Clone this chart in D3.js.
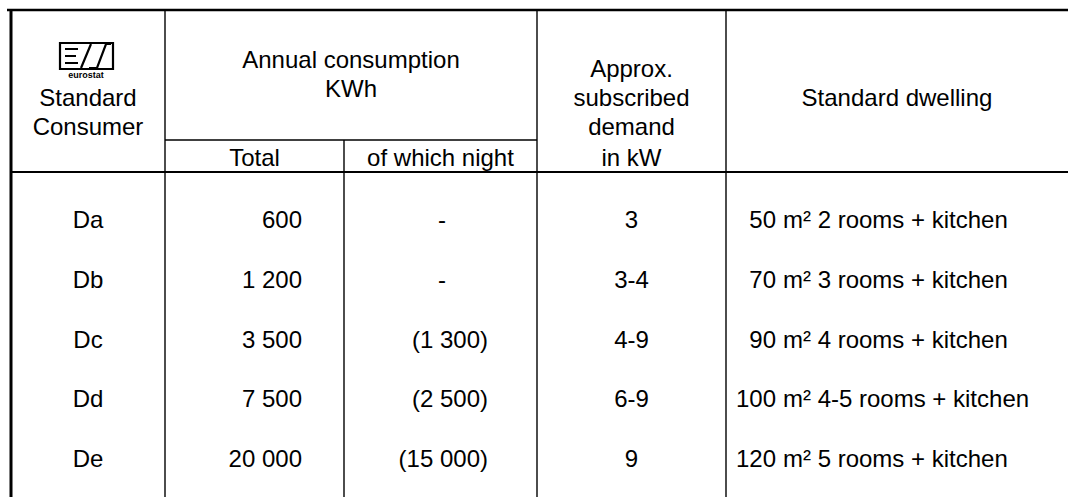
<!DOCTYPE html>
<html>
<head>
<meta charset="utf-8">
<script src="https://cdn.jsdelivr.net/npm/d3@7"></script>
<style>
  body { margin: 0; background: #fff; }
  text { font-family: "Liberation Sans", Arial, sans-serif; fill: #000; }
</style>
</head>
<body>
<script>
var consumers = ["Da", "Db", "Dc", "Dd", "De"];
var totals = [600, 1200, 3500, 7500, 20000];
var night = [null, null, 1300, 2500, 15000];
var demand = ["3", "3-4", "4-9", "6-9", "9"];
var areas = [50, 70, 90, 100, 120];
var rooms = ["2 rooms", "3 rooms", "4 rooms", "4-5 rooms", "5 rooms"];

var width = 1068;
var height = 497;
var fontSize = 24;

// column edges
var colX = [11, 165, 344, 537, 726, 1068];
var topY = 10, subY = 140, headY = 172;

var svg = d3.select("body").append("svg")
    .attr("width", width).attr("height", height);

var yScale = d3.scaleBand()
    .domain(consumers)
    .range([190, 488]);

// thousands with a space, like "1 200"
var fmt = function(v) { return d3.format(",")(v).replace(/,/g, " "); };

// ---- grid lines
var g = svg.append("g").attr("stroke", "#000");
g.append("line").attr("x1", 7).attr("x2", width).attr("y1", topY).attr("y2", topY).attr("stroke-width", 2.5);
g.append("line").attr("x1", colX[0]).attr("x2", width).attr("y1", headY).attr("y2", headY).attr("stroke-width", 2);
g.append("line").attr("x1", colX[1]).attr("x2", colX[3]).attr("y1", subY).attr("y2", subY).attr("stroke-width", 1.6);
g.append("line").attr("x1", colX[0]).attr("x2", colX[0]).attr("y1", topY).attr("y2", height).attr("stroke-width", 3);
[colX[1], colX[3], colX[4]].forEach(function(x) {
    g.append("line").attr("x1", x).attr("x2", x).attr("y1", topY).attr("y2", height).attr("stroke-width", 1.4);
});
g.append("line").attr("x1", colX[2]).attr("x2", colX[2]).attr("y1", subY).attr("y2", height).attr("stroke-width", 1.4);

// ---- header text
function label(x, y, s, anchor) {
    return svg.append("text")
        .attr("x", x).attr("y", y)
        .attr("text-anchor", anchor || "middle")
        .attr("dominant-baseline", "central")
        .style("font-size", fontSize + "px")
        .text(s);
}
var c1 = (colX[0] + colX[1]) / 2;
label(c1, 97, "Standard");
label(c1, 126, "Consumer");
label((colX[1] + colX[3]) / 2, 59, "Annual consumption");
label((colX[1] + colX[3]) / 2, 88, "KWh");
label((colX[1] + colX[2]) / 2, 157, "Total");
label((colX[2] + colX[3]) / 2, 157, "of which night");
var c4 = (colX[3] + colX[4]) / 2;
label(c4, 68, "Approx.");
label(c4, 97, "subscribed");
label(c4, 126, "demand");
label(c4, 157, "in kW");
label((colX[4] + colX[5]) / 2, 97, "Standard dwelling");

// ---- eurostat logo (rough drawing)
var logo = svg.append("g").attr("transform", "translate(59,42)")
    .attr("fill", "none").attr("stroke", "#000").attr("stroke-width", 2.2);
logo.append("path").attr("d", "M1,1 H54 V27 H1 Z");
logo.append("path").attr("d", "M6,7 H19 M6,14 H17 M6,21 H19");
logo.append("path").attr("d", "M22,26 L32,2 M30,26 H38 L47,2 H52");
svg.append("text").attr("x", 86).attr("y", 75)
    .attr("text-anchor", "middle").attr("dominant-baseline", "central")
    .style("font-size", "9px").style("font-weight", "bold")
    .text("eurostat");

// ---- body rows
var rows = svg.append("g");
var cy = function(d) { return yScale(d) + yScale.bandwidth() / 2; };

rows.selectAll(".cons").data(consumers).enter().append("text")
    .attr("x", c1).attr("y", cy)
    .attr("text-anchor", "middle").attr("dominant-baseline", "central")
    .style("font-size", fontSize + "px")
    .text(function(d) { return d; });

rows.selectAll(".tot").data(totals).enter().append("text")
    .attr("x", 302).attr("y", function(d, i) { return cy(consumers[i]); })
    .attr("text-anchor", "end").attr("dominant-baseline", "central")
    .style("font-size", fontSize + "px")
    .text(function(d) { return fmt(d); });

rows.selectAll(".night").data(night).enter().append("text")
    .attr("x", function(d) { return d == null ? 442 : 488; })
    .attr("y", function(d, i) { return cy(consumers[i]); })
    .attr("text-anchor", function(d) { return d == null ? "middle" : "end"; })
    .attr("dominant-baseline", "central")
    .style("font-size", fontSize + "px")
    .text(function(d) { return d == null ? "-" : "(" + fmt(d) + ")"; });

rows.selectAll(".dem").data(demand).enter().append("text")
    .attr("x", c4).attr("y", function(d, i) { return cy(consumers[i]); })
    .attr("text-anchor", "middle").attr("dominant-baseline", "central")
    .style("font-size", fontSize + "px")
    .text(function(d) { return d; });

var areaX = 776;
rows.selectAll(".area").data(areas).enter().append("text")
    .attr("x", areaX).attr("y", function(d, i) { return cy(consumers[i]); })
    .attr("text-anchor", "end").attr("dominant-baseline", "central")
    .style("font-size", fontSize + "px")
    .text(function(d) { return d; });

rows.selectAll(".rooms").data(rooms).enter().append("text")
    .attr("x", areaX + 7).attr("y", function(d, i) { return cy(consumers[i]); })
    .attr("dominant-baseline", "central")
    .style("font-size", fontSize + "px")
    .text(function(d) { return "m\u00b2 " + d + " + kitchen"; });
</script>
</body>
</html>
